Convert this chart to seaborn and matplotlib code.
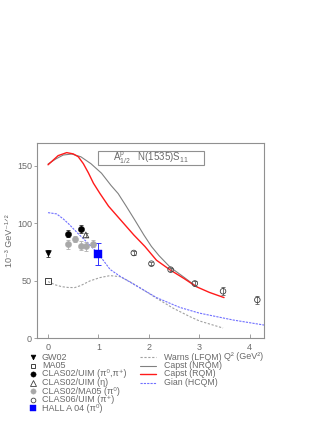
import matplotlib
matplotlib.use("Agg")
import matplotlib.pyplot as plt
from matplotlib.lines import Line2D
from matplotlib.patches import Rectangle
import seaborn as sns
import numpy as np

# ---- data ----
gw02_x = [0.0]; gw02_y = [74.0]; gw02_e = [3.0]
ma05_x = [0.0]; ma05_y = [50.0]
clas_pi_x = [0.40, 0.65]; clas_pi_y = [91.0, 95.5]; clas_pi_e = [3.0, 3.5]
clas_eta_x = [0.75]; clas_eta_y = [90.0]; clas_eta_e = [2.0]
clas_ma_x = [0.40, 0.53, 0.65, 0.75, 0.90]
clas_ma_y = [82.0, 86.5, 80.5, 80.0, 82.5]
clas_ma_e = [4.0, 3.0, 4.0, 4.0, 3.0]
clas06_x = [1.70, 2.05, 2.43, 2.91, 3.47, 4.15]
clas06_y = [74.3, 65.0, 59.8, 47.8, 41.0, 33.5]
clas06_e = [1.5, 1.5, 1.5, 2.0, 3.5, 3.5]
halla_x = [1.0]; halla_y = [73.5]; halla_e = [9.7]

warns_x = [0.0, 0.15, 0.27, 0.40, 0.53, 0.65, 0.83, 1.03, 1.23, 1.43, 1.62, 1.89, 2.15, 2.48, 2.81, 3.0, 3.47]
warns_y = [49.4, 46.5, 45.0, 44.3, 44.2, 46.0, 50.0, 52.9, 54.6, 53.7, 49.4, 42.2, 35.0, 26.3, 19.0, 15.2, 9.0]
nrqm_x = [0.0, 0.15, 0.30, 0.47, 0.65, 0.85, 1.06, 1.25, 1.39, 1.55, 1.72, 1.90, 2.05, 2.20, 2.42, 2.68, 2.90]
nrqm_y = [151.7, 156.0, 159.5, 160.4, 158.0, 152.0, 143.7, 133.0, 126.0, 115.0, 103.0, 90.0, 80.0, 72.0, 62.0, 53.7, 46.5]
rqm_x = [0.0, 0.10, 0.20, 0.37, 0.50, 0.60, 0.70, 0.80, 0.90, 1.03, 1.20, 1.40, 1.70, 1.92, 2.15, 2.42, 2.70, 2.94, 3.20, 3.49]
rqm_y = [151.0, 155.0, 159.0, 161.6, 160.5, 158.0, 152.0, 144.0, 135.0, 126.0, 115.0, 105.0, 90.0, 80.0, 68.0, 59.6, 52.0, 45.0, 40.0, 35.5]
gian_x = [0.0, 0.17, 0.30, 0.40, 0.60, 0.80, 1.00, 1.23, 1.43, 1.82, 2.15, 2.61, 3.00, 3.67, 4.30]
gian_y = [109.4, 108.3, 104.0, 100.0, 91.0, 82.5, 73.5, 60.0, 54.0, 44.0, 35.5, 27.0, 22.0, 16.0, 11.5]

xticks = [0, 1, 2, 3, 4]
yticks = [0, 50, 100, 150]

legend_points = ['GW02', 'MA05', 'CLAS02/UIM (π⁰,π⁺)', 'CLAS02/UIM (η)',
                 'CLAS02/MA05 (π⁰)', 'CLAS06/UIM (π⁺)', 'HALL A 04 (π⁰)']
legend_curves = ['Warns (LFQM)', 'Capst (NRQM)', 'Capst (RQM)', 'Gian (HCQM)']

sns.set_style("ticks")
plt.rcParams['font.family'] = ['Liberation Sans', 'DejaVu Sans']
plt.rcParams['mathtext.fontset'] = 'custom'
plt.rcParams['mathtext.rm'] = 'Liberation Sans'
plt.rcParams['mathtext.it'] = 'Liberation Sans:italic'
plt.rcParams['mathtext.bf'] = 'Liberation Sans:bold'
TXT = '#6a6a6a'
AX = '#909090'

fig = plt.figure(figsize=(3.27, 4.23), dpi=100)
ax = fig.add_axes([0.113, 0.200, 0.694, 0.462])

# styles
c_warns = dict(color='#a0a0a0', lw=0.8, ls=(0, (2, 1.5)))
c_nrqm = dict(color='#808080', lw=0.8, ls='-')
c_rqm = dict(color='#ff1a1a', lw=1.0, ls='-')
c_gian = dict(color='#7070ff', lw=0.8, ls=(0, (2, 1)))

# theory curves
sns.lineplot(x=warns_x, y=warns_y, ax=ax, color=c_warns['color'], lw=c_warns['lw'], linestyle=c_warns['ls'])
sns.lineplot(x=nrqm_x, y=nrqm_y, ax=ax, color=c_nrqm['color'], lw=c_nrqm['lw'])
sns.lineplot(x=rqm_x, y=rqm_y, ax=ax, color=c_rqm['color'], lw=c_rqm['lw'])
sns.lineplot(x=gian_x, y=gian_y, ax=ax, color=c_gian['color'], lw=c_gian['lw'], linestyle=c_gian['ls'])

# error bars
ekw = dict(fmt='none', elinewidth=0.6, capsize=1.5, capthick=0.6)
ax.errorbar(gw02_x, gw02_y, yerr=gw02_e, ecolor='#303030', **ekw)
ax.errorbar(clas_pi_x, clas_pi_y, yerr=clas_pi_e, ecolor='#303030', **ekw)
ax.errorbar(clas_eta_x, clas_eta_y, yerr=clas_eta_e, ecolor='#606060', **ekw)
ax.errorbar(clas_ma_x, clas_ma_y, yerr=clas_ma_e, ecolor='#b0b0b0', **ekw)
ax.errorbar(clas06_x, clas06_y, yerr=clas06_e, ecolor='#606060', **ekw)
ax.errorbar(halla_x, halla_y, yerr=halla_e, fmt='none', elinewidth=0.7, capsize=2.5, capthick=0.7, ecolor='#3030ff')

# markers
m_specs = [
    (gw02_x, gw02_y, dict(marker='v', s=16, fc='black', ec='black', lw=0.5)),
    (ma05_x, ma05_y, dict(marker='s', s=16, fc='none', ec='#404040', lw=0.7)),
    (clas_pi_x, clas_pi_y, dict(marker='o', s=20, fc='black', ec='black', lw=0.3)),
    (clas_eta_x, clas_eta_y, dict(marker='^', s=18, fc='none', ec='#404040', lw=0.6)),
    (clas_ma_x, clas_ma_y, dict(marker='o', s=20, fc='#a8a8a8', ec='#a8a8a8', lw=0.3)),
    (clas06_x, clas06_y, dict(marker='o', s=16, fc='none', ec='#404040', lw=0.6)),
    (halla_x, halla_y, dict(marker='s', s=26, fc='#0000ff', ec='#0000ff', lw=0.3)),
]
zs = [4, 4, 5, 5, 4, 5, 6]
for (xx, yy, st), z in zip(m_specs, zs):
    sns.scatterplot(x=xx, y=yy, ax=ax, marker=st['marker'], s=st['s'], facecolor=st['fc'],
                    edgecolor=st['ec'], linewidth=st['lw'], zorder=z)

ax.set_xlim(-0.22, 4.28)
ax.set_ylim(0, 170)
ax.set_xticks(xticks)
ax.set_yticks(yticks)
ax.tick_params(axis='x', direction='in', length=3, width=0.6, colors=AX, labelcolor=TXT, labelsize=6.5, pad=3)
ax.tick_params(axis='y', direction='out', length=2, width=0.6, colors=AX, labelcolor=TXT, labelsize=6.5, pad=1.5)
for sp in ax.spines.values():
    sp.set_visible(True)
    sp.set_color(AX)
    sp.set_linewidth(0.8)

ax.set_ylabel('10⁻³ GeV⁻¹ᐟ²', color=TXT, fontsize=6.5)
ax.yaxis.set_label_coords(-0.10, 0.5)

ax.set_xlabel('Q² (GeV²)', color=TXT, fontsize=6.5, va='center', ha='left')
ax.xaxis.set_label_coords(0.826, -0.095)

# title box
ax.add_patch(Rectangle((0.99, 150.9), 2.10, 12.1, facecolor='white', edgecolor=AX, lw=0.8, zorder=3))
ax.text(2.04, 157, r'A$^{\rm p}_{1/2}$   N(1535)S$_{11}$', color=TXT, fontsize=7,
        ha='center', va='center', zorder=4)

# manual legend (figure pixel positions)
W, H = 327.0, 423.0
rows = [357.3, 365.6, 373.9, 382.6, 391.0, 399.7, 408.3]
for (xx, yy, st), lab, ry in zip(m_specs, legend_points, rows):
    ms = np.sqrt(st['s']) * 0.85
    fig.add_artist(Line2D([33 / W], [1 - ry / H], transform=fig.transFigure, ls='none',
                          marker=st['marker'], ms=ms, mfc=st['fc'], mec=st['ec'], mew=st['lw']))
    fig.text(42 / W, 1 - ry / H, lab, color=TXT, fontsize=6.5, va='center', ha='left')

for st, lab, ry in zip([c_warns, c_nrqm, c_rqm, c_gian], legend_curves, rows):
    fig.add_artist(Line2D([140 / W, 156 / W], [1 - ry / H, 1 - ry / H], transform=fig.transFigure,
                          color=st['color'], lw=st['lw'], ls=st['ls']))
    fig.text(164 / W, 1 - ry / H, lab, color=TXT, fontsize=6.3, va='center', ha='left')

fig.savefig('out.png', dpi=100)
